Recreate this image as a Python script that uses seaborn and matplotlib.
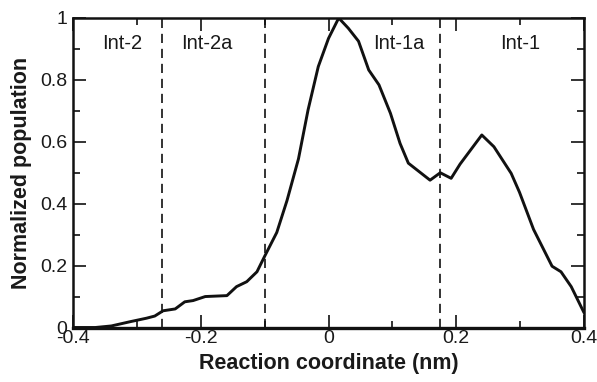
import matplotlib
matplotlib.use("Agg")
import matplotlib.pyplot as plt
import seaborn as sns
import pandas as pd
from matplotlib.ticker import MultipleLocator, FixedLocator, FixedFormatter

# data
coord = [-0.40, -0.365, -0.34, -0.31, -0.285, -0.272, -0.259, -0.24, -0.225, -0.212, -0.193,
         -0.159, -0.144, -0.128, -0.112, -0.100, -0.081, -0.065, -0.047, -0.032,
         -0.016, 0.0, 0.016, 0.031, 0.047, 0.063, 0.079, 0.097, 0.112, 0.125,
         0.159, 0.175, 0.192, 0.206, 0.240, 0.259, 0.286, 0.299, 0.321, 0.350,
         0.364, 0.380, 0.400]
population = [0.0, 0.0, 0.005, 0.019, 0.03, 0.037, 0.054, 0.06, 0.083, 0.087, 0.10,
              0.103, 0.132, 0.148, 0.18, 0.23, 0.307, 0.41, 0.545, 0.703,
              0.843, 0.934, 1.0, 0.967, 0.925, 0.832, 0.784, 0.692, 0.595, 0.531,
              0.476, 0.50, 0.482, 0.528, 0.622, 0.584, 0.498, 0.437, 0.317, 0.198,
              0.18, 0.132, 0.048]
boundaries = [-0.26, -0.10, 0.175]
region_labels = ["Int-2", "Int-2a", "Int-1a", "Int-1"]
region_x = [-0.323, -0.190, 0.110, 0.300]
xticks = [-0.4, -0.2, 0.0, 0.2, 0.4]
xticklabels = ["-0.4", "-0.2", "0", "0.2", "0.4"]
yticks = [0, 0.2, 0.4, 0.6, 0.8, 1.0]
yticklabels = ["0", "0.2", "0.4", "0.6", "0.8", "1"]

sns.set_style("ticks")
plt.rcParams['font.family'] = ['Liberation Sans', 'DejaVu Sans']

fig = plt.figure(figsize=(5.97, 3.82), dpi=100)
ax = fig.add_axes([73/597, 1 - 327.5/382, (584 - 73)/597, (327.5 - 18)/382])

df = pd.DataFrame({"x": coord, "y": population})
sns.lineplot(data=df, x="x", y="y", ax=ax, color="#111111", linewidth=2.1,
             sort=False, estimator=None)

for b in boundaries:
    ax.axvline(b, color="#111111", linewidth=1.2, linestyle=(0, (5.5, 3.5)))

for lab, xx in zip(region_labels, region_x):
    ax.text(xx, 0.917, lab, ha="center", va="center", fontsize=14.5, color="#1a1a1a")

ax.set_xlim(-0.4, 0.4)
ax.set_ylim(0, 1)
ax.xaxis.set_major_locator(FixedLocator(xticks))
ax.xaxis.set_major_formatter(FixedFormatter(xticklabels))
ax.yaxis.set_major_locator(FixedLocator(yticks))
ax.yaxis.set_major_formatter(FixedFormatter(yticklabels))
ax.xaxis.set_minor_locator(MultipleLocator(0.1))
ax.yaxis.set_minor_locator(MultipleLocator(0.1))

ax.tick_params(which="both", direction="in", top=True, right=True, color="#111111",
               labelcolor="#1a1a1a", labelsize=14)
ax.tick_params(which="major", length=9.5, width=1.2)
ax.tick_params(which="minor", length=5, width=1.2)
ax.tick_params(axis="x", which="major", pad=2)
ax.tick_params(axis="y", which="major", pad=4)

for s in ax.spines.values():
    s.set_visible(True)
    s.set_linewidth(1.8)
    s.set_color("#111111")
ax.spines["bottom"].set_linewidth(2.4)

ax.set_xlabel("Reaction coordinate (nm)", fontsize=15.5, fontweight="bold",
              labelpad=4, color="#1a1a1a")
ax.set_ylabel("Normalized population", fontsize=15.5, fontweight="bold",
              labelpad=6, color="#1a1a1a")

fig.savefig("out.png", dpi=100)
